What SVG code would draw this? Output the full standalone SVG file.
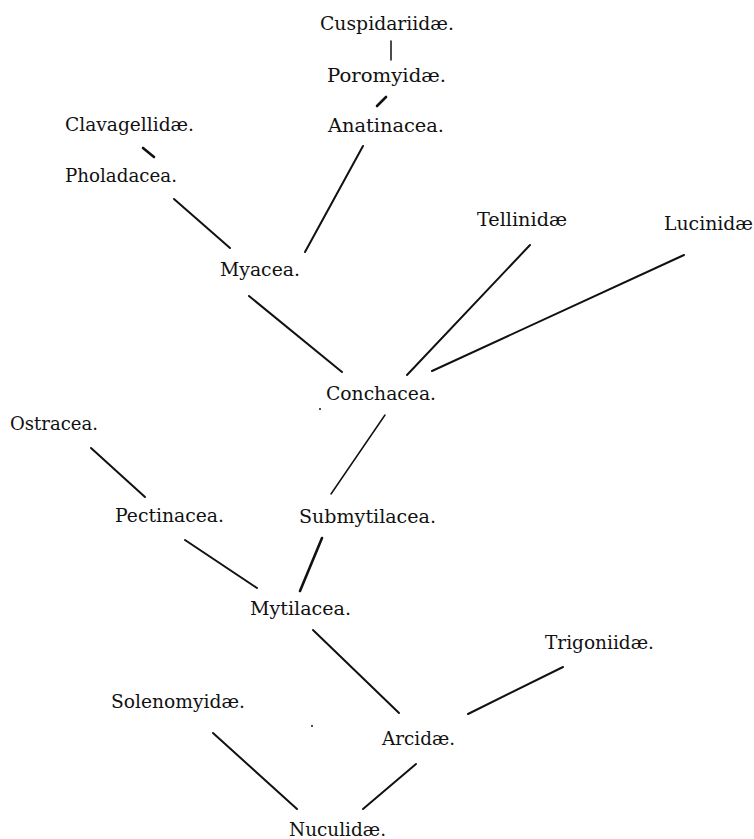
<svg xmlns="http://www.w3.org/2000/svg" width="754" height="839" viewBox="0 0 754 839">
<style>
text { font-family: "DejaVu Serif", "Liberation Serif", serif; font-size: 18px; fill: #111; }
.c line { stroke: #111; stroke-width: 2; stroke-linecap: round; }
.c .thin { stroke-width: 1.5; }
.c .thick { stroke-width: 2.6; }
</style>
<rect width="754" height="839" fill="#fff"/>
<g class="c" id="connectors">
<line class="thin" x1="391" y1="41" x2="391" y2="60"/>
<line class="thick" x1="386" y1="97" x2="377" y2="106"/>
<line class="thick" x1="143" y1="148" x2="154" y2="157"/>
<line x1="174" y1="199" x2="230" y2="248"/>
<line x1="363" y1="146" x2="305" y2="252"/>
<line x1="249" y1="296" x2="342" y2="372"/>
<line x1="530" y1="245" x2="407" y2="375"/>
<line x1="684" y1="255" x2="432" y2="371"/>
<line class="thin" x1="385" y1="415" x2="331" y2="494"/>
<line x1="91" y1="448" x2="145" y2="497"/>
<line x1="185" y1="540" x2="257" y2="588"/>
<line class="thick" x1="322" y1="538" x2="300" y2="591"/>
<line x1="313" y1="630" x2="399" y2="713"/>
<line x1="563" y1="667" x2="468" y2="714"/>
<line x1="213" y1="733" x2="297" y2="809"/>
<line x1="416" y1="764" x2="363" y2="809"/>
<circle cx="320" cy="409" r="1" fill="#111"/>
<circle cx="312" cy="726" r="1" fill="#111"/>
</g>
<g id="cuspidariidae"><text x="320" y="30" textLength="134" lengthAdjust="spacingAndGlyphs">Cuspidariidæ.</text></g>
<g id="poromyidae"><text x="327" y="82" textLength="119" lengthAdjust="spacingAndGlyphs">Poromyidæ.</text></g>
<g id="anatinacea"><text x="328" y="132" textLength="116" lengthAdjust="spacingAndGlyphs">Anatinacea.</text></g>
<g id="clavagellidae"><text x="65" y="131" textLength="129" lengthAdjust="spacingAndGlyphs">Clavagellidæ.</text></g>
<g id="pholadacea"><text x="65" y="182" textLength="112" lengthAdjust="spacingAndGlyphs">Pholadacea.</text></g>
<g id="myacea"><text x="220" y="276" textLength="80" lengthAdjust="spacingAndGlyphs">Myacea.</text></g>
<g id="tellinidae"><text x="477" y="226" textLength="90" lengthAdjust="spacingAndGlyphs">Tellinidæ</text></g>
<g id="lucinidae"><text x="664" y="230" textLength="89" lengthAdjust="spacingAndGlyphs">Lucinidæ</text></g>
<g id="conchacea"><text x="326" y="400" textLength="110" lengthAdjust="spacingAndGlyphs">Conchacea.</text></g>
<g id="ostracea"><text x="10" y="430" textLength="88" lengthAdjust="spacingAndGlyphs">Ostracea.</text></g>
<g id="pectinacea"><text x="115" y="522" textLength="109" lengthAdjust="spacingAndGlyphs">Pectinacea.</text></g>
<g id="submytilacea"><text x="299" y="523" textLength="137" lengthAdjust="spacingAndGlyphs">Submytilacea.</text></g>
<g id="mytilacea"><text x="250" y="615" textLength="101" lengthAdjust="spacingAndGlyphs">Mytilacea.</text></g>
<g id="trigoniidae"><text x="545" y="649" textLength="109" lengthAdjust="spacingAndGlyphs">Trigoniidæ.</text></g>
<g id="solenomyidae"><text x="111" y="708" textLength="134" lengthAdjust="spacingAndGlyphs">Solenomyidæ.</text></g>
<g id="arcidae"><text x="382" y="745" textLength="73" lengthAdjust="spacingAndGlyphs">Arcidæ.</text></g>
<g id="nuculidae"><text x="289" y="836" textLength="97" lengthAdjust="spacingAndGlyphs">Nuculidæ.</text></g>
</svg>
